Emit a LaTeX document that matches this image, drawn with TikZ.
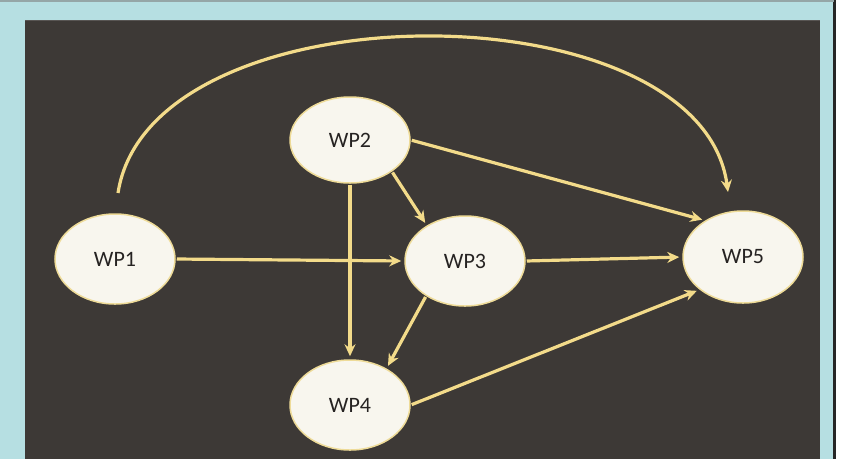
\documentclass[tikz,border=0pt]{standalone}
\usepackage{fontspec}
\setmainfont{Carlito}
\usetikzlibrary{arrows.meta,shapes.geometric}
\definecolor{bgblue}{HTML}{B6DFE2}
\definecolor{panel}{HTML}{3D3936}
\definecolor{edgecol}{HTML}{F3DB8A}
\definecolor{nodefill}{HTML}{F8F6EE}
\definecolor{nodeline}{HTML}{EEDB98}
\definecolor{txt}{HTML}{262322}
\tikzset{
  wp/.style={ellipse, draw=nodeline, line width=1.5pt, fill=nodefill, minimum width=120pt, minimum height=90pt, inner sep=0pt, text=txt, font=\fontsize{22}{26}\selectfont},
  link/.style={draw=edgecol, line width=3.2pt, -{Stealth[length=12pt,width=11pt]}, shorten >=3pt, shorten <=1pt},
}
\begin{document}
\begin{tikzpicture}[x=1pt,y=-1pt]
\useasboundingbox (0,0) rectangle (845,459);
\fill[white] (0,0) rectangle (845,459);
\fill[bgblue] (0,0) rectangle (834,459);
\fill[black!85] (833,0) rectangle (836,459);
\fill[gray!60!bgblue] (0,0) rectangle (834,1.5);
\fill[panel] (25,20) rectangle (820,459);
\fill[gray!40!panel] (25,20) rectangle (820,21);

\node[wp] (wp1) at (115,259) {WP1};
\node[wp, minimum height=86pt] (wp2) at (350,140) {WP2};
\node[wp] (wp3) at (465,261) {WP3};
\node[wp] (wp4) at (350,405) {WP4};
\node[wp, minimum height=92pt] (wp5) at (743,257) {WP5};

\coordinate (arcs) at (118,193);
\coordinate (arce) at (728,192);
\draw[link, shorten >=0pt, shorten <=0pt] (arcs) .. controls (150,-15) and (700,-15) .. (arce);

\draw[link] (wp2.east) -- (wp5.136);
\draw[link] (wp2.-37) -- (wp3.137);
\draw[link] (wp2.south) -- (wp4.north);
\draw[link] (wp1.east) -- (wp3.west);
\draw[link] (wp3.east) -- (wp5.west);
\draw[link] (wp3.222) -- (wp4.45);
\draw[link] (wp4.east) -- (wp5.-143);
\end{tikzpicture}
\end{document}
